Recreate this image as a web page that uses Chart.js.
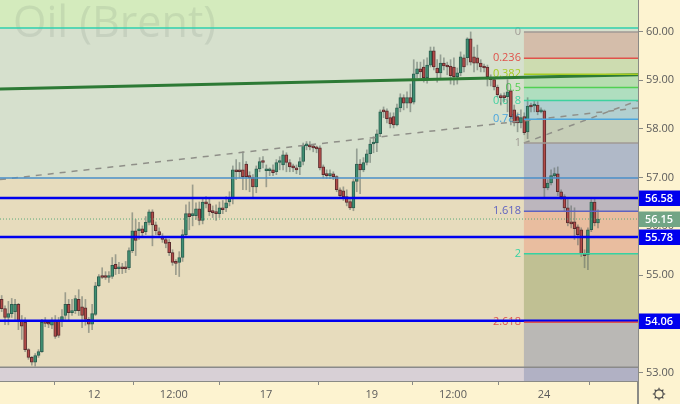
<!DOCTYPE html>
<html>
<head>
<meta charset="utf-8">
<style>
html, body { margin: 0; padding: 0; background: #fdf3d0; }
canvas { display: block; }
</style>
<script src="https://cdn.jsdelivr.net/npm/chart.js@4"></script>
</head>
<body>
<canvas id="oilChart" width="680" height="404"></canvas>
<script>
// 30 minute candles
const opens = [54.50,54.31,54.13,54.21,54.25,54.40,54.05,54.03,53.47,53.31,53.21,53.35,53.43,54.03,54.01,53.97,54.05,54.05,54.05,54.17,54.40,54.23,54.27,54.50,54.35,54.33,54.09,53.99,54.19,54.78,54.97,54.97,54.95,54.97,55.22,55.13,55.15,55.15,55.15,55.50,55.91,55.91,55.95,55.89,56.08,56.30,56.03,55.89,55.79,55.73,55.67,55.46,55.26,55.26,55.36,55.83,56.26,56.22,56.22,56.36,56.12,56.50,56.46,56.30,56.30,56.26,56.38,56.38,56.50,56.57,57.16,57.16,57.16,57.28,57.02,57.00,56.81,57.18,57.33,57.14,57.14,57.16,57.12,57.31,57.26,57.47,57.31,57.22,57.20,57.22,57.33,57.65,57.67,57.63,57.61,57.61,57.22,57.06,57.04,57.08,57.02,56.75,56.73,56.61,56.51,56.38,56.92,57.28,57.16,57.31,57.49,57.69,57.71,57.90,58.37,58.37,58.23,58.25,58.08,58.43,58.64,58.53,58.64,58.55,59.13,59.23,59.27,59.05,59.31,59.60,59.25,59.15,59.35,59.29,59.29,59.27,59.07,59.15,59.46,59.46,59.85,59.48,59.46,59.35,59.27,59.27,59.03,59.01,58.86,58.68,58.66,58.66,58.78,58.39,58.25,58.12,58.25,57.94,58.47,58.47,58.49,58.35,58.37,56.79,56.89,57.04,57.08,56.71,56.61,56.38,56.09,56.09,55.99,55.93,55.42,55.42,55.93,56.50,56.07];
const closes = [54.31,54.13,54.21,54.40,54.40,54.05,53.95,53.47,53.31,53.21,53.35,53.43,54.03,54.01,53.99,54.07,53.74,53.76,54.15,54.40,54.23,54.27,54.52,54.27,54.17,54.09,53.99,54.21,54.78,54.97,54.95,54.95,54.99,55.20,55.13,55.15,55.13,55.13,55.50,55.91,55.71,55.95,55.87,56.08,56.30,56.03,55.91,55.83,55.73,55.65,55.46,55.26,55.24,55.36,55.83,56.26,56.20,56.26,56.36,56.12,56.50,56.46,56.30,56.28,56.26,56.38,56.34,56.48,56.57,57.16,57.12,57.12,57.02,57.02,57.00,56.81,57.18,57.33,57.31,57.18,57.16,57.10,57.31,57.33,57.47,57.31,57.22,57.20,57.16,57.33,57.67,57.67,57.63,57.61,57.59,57.20,57.06,57.04,57.08,57.02,56.75,56.63,56.61,56.49,56.38,56.92,57.28,57.16,57.31,57.49,57.69,57.71,57.90,58.35,58.35,58.21,58.10,58.08,58.43,58.64,58.53,58.64,58.53,59.13,59.23,59.17,59.05,59.31,59.60,59.27,59.15,59.35,59.29,59.27,59.09,59.07,59.15,59.48,59.27,59.85,59.37,59.35,59.35,59.27,59.25,59.07,59.01,58.86,58.70,58.64,58.64,58.76,58.25,58.12,58.12,58.23,57.92,58.47,58.45,58.49,58.35,58.37,56.79,56.89,57.04,57.08,56.71,56.61,56.38,56.07,56.05,55.95,55.83,55.44,55.40,55.93,56.50,56.07,56.15];
const highs = [54.58,54.37,54.46,54.52,54.50,54.42,54.17,54.13,53.49,53.33,53.39,53.47,54.09,54.13,54.07,54.13,54.17,54.13,54.29,54.64,54.50,54.50,54.58,54.70,54.56,54.50,54.13,54.40,54.85,55.01,55.15,55.07,55.07,55.36,55.42,55.26,55.24,55.28,55.56,56.28,56.14,56.08,56.01,56.20,56.34,56.34,56.09,55.97,55.85,55.79,55.73,55.52,55.32,55.48,55.93,56.44,56.50,56.85,56.48,56.50,56.59,56.61,56.59,56.42,56.44,56.50,56.53,56.61,56.71,57.24,57.37,57.31,57.53,57.33,57.12,57.06,57.24,57.41,57.43,57.26,57.20,57.26,57.37,57.43,57.55,57.51,57.37,57.28,57.26,57.41,57.71,57.74,57.74,57.67,57.65,57.65,57.26,57.16,57.16,57.12,57.04,56.79,56.81,56.75,56.57,56.96,57.59,57.37,57.41,57.57,57.78,57.84,57.98,58.39,58.45,58.41,58.33,58.33,58.51,58.72,58.70,58.76,58.92,59.42,59.37,59.37,59.42,59.46,59.68,59.68,59.42,59.52,59.46,59.37,59.42,59.46,59.25,59.58,59.52,59.87,59.99,59.68,59.72,59.42,59.33,59.31,59.11,59.05,58.90,58.72,58.74,59.01,58.80,58.49,58.33,58.39,58.33,58.64,58.53,58.58,58.56,58.43,58.39,56.96,57.16,57.20,57.22,56.75,56.65,56.55,56.42,56.38,56.03,55.97,55.52,55.97,56.55,56.59,56.34];
const lows = [54.25,53.98,53.98,54.13,54.05,53.88,53.68,53.43,53.27,53.15,53.13,53.31,53.41,53.94,53.92,53.90,53.70,53.72,53.94,54.09,54.05,54.17,54.21,54.17,53.92,53.97,53.82,53.88,54.17,54.76,54.93,54.91,54.85,54.93,55.01,55.03,55.03,55.05,55.11,55.46,55.40,55.73,55.77,55.83,56.03,55.60,55.83,55.77,55.67,55.56,55.40,55.20,55.01,54.97,55.28,55.79,55.93,56.01,56.14,56.03,56.05,56.38,56.22,56.18,56.12,56.18,56.26,56.30,56.42,56.46,56.96,56.99,56.75,56.75,56.71,56.59,56.69,57.12,57.20,56.81,57.04,57.04,57.06,57.16,57.16,57.12,57.12,57.12,57.08,57.06,57.26,57.57,57.57,57.53,57.51,57.16,56.99,56.98,56.98,56.96,56.71,56.59,56.53,56.42,56.34,56.32,56.71,56.67,57.12,57.26,57.31,57.51,57.53,57.84,58.23,58.12,58.02,58.02,58.06,58.35,58.39,58.43,58.35,58.51,59.05,59.05,58.96,58.94,59.27,59.21,58.96,59.05,59.21,59.11,58.92,58.90,58.92,59.09,59.17,59.31,59.31,59.17,59.21,59.17,59.17,58.88,58.88,58.80,58.66,58.49,58.56,58.35,58.08,58.06,57.94,58.02,57.88,57.80,58.35,58.35,58.29,58.33,56.59,56.75,56.85,57.00,56.63,56.55,56.30,56.01,55.97,55.73,55.62,55.38,55.15,55.11,55.89,56.01,55.97];

const xTickBars = [27.6, 51.4, 78.9, 110.5, 134.7, 161.9];
const xTickLabels = ['12', '12:00', '17', '19', '12:00', '24'];

// price levels drawn across the chart
const supportLevels = [56.58, 55.78, 54.06];
const lastPrice = 56.15;
const zoneTop = 60.07;
const zoneMid = 56.99;
const zoneLow = 53.11;

// fibonacci retracement
const fibNames = ['0', '0.236', '0.382', '0.5', '0.618', '0.786', '1', '1.618', '2', '2.618'];
const fibPrices = [59.99, 59.45, 59.12, 58.85, 58.58, 58.20, 57.71, 56.31, 55.44, 54.03];
const fibColors = ['#a09a94', '#e0524a', '#a6cc22', '#52d052', '#3fd19f', '#4aa5de', '#a09a94', '#5f62c0', '#36d2a2', '#dd5550'];
const fibFills = ['rgba(210,110,90,.3)', 'rgba(170,205,60,.2)', 'rgba(90,210,90,.25)', 'rgba(60,215,150,.25)', 'rgba(70,160,220,.25)', 'rgba(150,150,120,.25)', 'rgba(90,95,190,.3)', 'rgba(240,120,90,.3)', 'rgba(120,140,70,.35)', 'rgba(120,130,170,.4)'];

const xMin = -0.5;
const xMax = 189.95;
const yMin = 52.826;
const yMax = 60.645;
const fibStartBar = 155.9;

// trend lines, [bar, price] at both ends
const greenTrend = [[xMin, 58.82], [xMax, 59.11]];
const greyTrend = [[xMin, 56.96], [xMax, 58.43]];
const fibDiagonal = [[fibStartBar, 57.71], [xMax, 58.58]];

const badges = [
    { price: 56.58, text: '56.58', color: '#0000ee' },
    { price: 55.78, text: '55.78', color: '#0000ee' },
    { price: 54.06, text: '54.06', color: '#0000ee' },
    { price: 56.15, text: '56.15', color: '#72a585' }
];

const upColor = '#3f8f72', upEdge = '#2c5f50';
const downColor = '#b34b48', downEdge = '#5a2c2e';

function lineData(points) {
    return points.map(p => ({ x: p[0], y: p[1] }));
}

function level(price, color, width, dash, fromBar) {
    return {
        type: 'line',
        data: lineData([[fromBar === undefined ? xMin : fromBar, price], [xMax, price]]),
        borderColor: color,
        borderWidth: width,
        borderDash: dash || [],
        pointRadius: 0,
        order: 1
    };
}

function trend(points, color, width, dash) {
    return {
        type: 'line',
        data: lineData(points),
        borderColor: color,
        borderWidth: width,
        borderDash: dash || [],
        pointRadius: 0,
        order: 1
    };
}

const wickSet = {
    type: 'bar',
    data: opens.map((o, i) => ({ x: i, y: [lows[i], highs[i]] })),
    backgroundColor: 'rgba(95,105,100,.55)',
    barThickness: 1,
    grouped: false,
    order: 3
};

const bodySet = {
    type: 'bar',
    data: opens.map((o, i) => ({ x: i, y: [o, closes[i]] })),
    backgroundColor: opens.map((o, i) => closes[i] >= o ? upColor : downColor),
    borderColor: opens.map((o, i) => closes[i] >= o ? upEdge : downEdge),
    borderWidth: 1,
    borderSkipped: false,
    barThickness: 3,
    minBarLength: 2,
    grouped: false,
    order: 2
};

// coloured zones, watermark, fib fills and fib names sit under the candles
const backdrop = {
    id: 'backdrop',
    beforeDatasetsDraw(chart) {
        const { ctx, chartArea: a, scales: { x, y } } = chart;
        ctx.save();
        const py = v => y.getPixelForValue(v);
        ctx.fillStyle = '#d4ebbd';
        ctx.fillRect(a.left, a.top, a.width, py(zoneTop) - a.top);
        ctx.fillStyle = '#d6e0cd';
        ctx.fillRect(a.left, py(zoneTop), a.width, py(zoneMid) - py(zoneTop));
        ctx.fillStyle = '#e7dcbd';
        ctx.fillRect(a.left, py(zoneMid), a.width, py(zoneLow) - py(zoneMid));
        ctx.fillStyle = '#d8d0d6';
        ctx.fillRect(a.left, py(zoneLow), a.width, a.bottom - py(zoneLow));

        ctx.fillStyle = 'rgba(90,110,100,.13)';
        ctx.font = '43px "Open Sans"';
        ctx.textBaseline = 'alphabetic';
        ctx.fillText('Oil (Brent)', 13, 37);

        const left = x.getPixelForValue(fibStartBar);
        fibPrices.forEach((p, i) => {
            const next = i + 1 < fibPrices.length ? py(fibPrices[i + 1]) : a.bottom;
            ctx.fillStyle = fibFills[i];
            ctx.fillRect(left, py(p), a.right - left, next - py(p));
        });

        ctx.font = '11px "Open Sans"';
        ctx.textAlign = 'right';
        ctx.textBaseline = 'middle';
        fibNames.forEach((name, i) => {
            ctx.fillStyle = fibColors[i];
            ctx.fillText(name, left - 3, py(fibPrices[i]));
        });
        ctx.restore();
    },
    afterDraw(chart) {
        const { ctx, chartArea: a, scales: { y } } = chart;
        ctx.save();

        ctx.font = '600 11px "Open Sans"';
        ctx.textAlign = 'center';
        ctx.textBaseline = 'middle';
        badges.forEach(b => {
            const py = Math.round(y.getPixelForValue(b.price));
            ctx.fillStyle = b.color;
            ctx.fillRect(a.right + 1, py - 7.5, 41, 15.5);
            ctx.fillStyle = '#ffffff';
            ctx.fillText(b.text, a.right + 21, py + 0.5);
        });

        // axis corner and settings gear
        ctx.strokeStyle = '#8a8a86';
        ctx.lineWidth = 2;
        ctx.beginPath();
        ctx.moveTo(a.right, a.bottom);
        ctx.lineTo(a.right, 404);
        ctx.stroke();

        const gx = 659, gy = 394;
        ctx.strokeStyle = '#4a4a4a';
        ctx.lineWidth = 1.2;
        ctx.beginPath();
        ctx.arc(gx, gy, 4.2, 0, Math.PI * 2);
        ctx.stroke();
        for (let k = 0; k < 8; k++) {
            const t = k * Math.PI / 4;
            ctx.beginPath();
            ctx.moveTo(gx + Math.cos(t) * 4.2, gy + Math.sin(t) * 4.2);
            ctx.lineTo(gx + Math.cos(t) * 6.2, gy + Math.sin(t) * 6.2);
            ctx.stroke();
        }
        ctx.restore();
    }
};

const datasets = [bodySet, wickSet,
    level(zoneTop, '#2fd0ae', 1.5),
    level(zoneMid, '#4a8fc8', 1.5),
    level(zoneLow, '#8a8a8a', 1.5),
    level(lastPrice, '#5aa878', 1, [1, 2])
];
fibPrices.forEach((p, i) => datasets.push(level(p, fibColors[i], 1.5, [], fibStartBar)));
supportLevels.forEach(p => datasets.push(level(p, '#0000f0', 2.5)));
datasets.push(trend(greyTrend, '#8f8f88', 1.5, [6, 6]));
datasets.push(trend(fibDiagonal, '#8f8f88', 1.5, [6, 6]));
datasets.push(trend(greenTrend, '#2d7a35', 3));

new Chart(document.getElementById('oilChart'), {
    type: 'bar',
    data: { datasets: datasets },
    plugins: [backdrop],
    options: {
        responsive: false,
        animation: false,
        layout: { padding: 0 },
        plugins: { legend: { display: false }, tooltip: { enabled: false } },
        scales: {
            x: {
                type: 'linear',
                offset: false,
                min: xMin,
                max: xMax,
                afterBuildTicks(scale) {
                    scale.ticks = xTickBars.map(v => ({ value: v }));
                },
                afterFit(scale) {
                    scale.height = 23;
                    scale.paddingLeft = 0;
                    scale.paddingRight = 0;
                },
                grid: { color: 'rgba(160,195,235,.6)', tickColor: '#8a8a86', tickLength: 4 },
                border: { color: '#8a8a86', width: 2, dash: [5, 5] },
                ticks: {
                    autoSkip: false,
                    maxRotation: 0,
                    padding: 3,
                    color: '#5a5a5a',
                    font: { family: 'Open Sans', size: 11 },
                    callback: (value, index) => xTickLabels[index]
                }
            },
            y: {
                position: 'right',
                min: yMin,
                max: yMax,
                afterFit(scale) {
                    scale.width = 42;
                    scale.paddingTop = 0;
                    scale.paddingBottom = 0;
                },
                grid: { color: 'rgba(160,195,235,.6)', tickColor: '#8a8a86', tickLength: 5 },
                border: { color: '#8a8a86', width: 2, dash: [5, 5] },
                ticks: {
                    stepSize: 1,
                    includeBounds: false,
                    padding: 3,
                    color: '#5a5a5a',
                    font: { family: 'Open Sans', size: 11 },
                    callback: value => value.toFixed(2)
                }
            }
        }
    }
});
</script>
</body>
</html>
